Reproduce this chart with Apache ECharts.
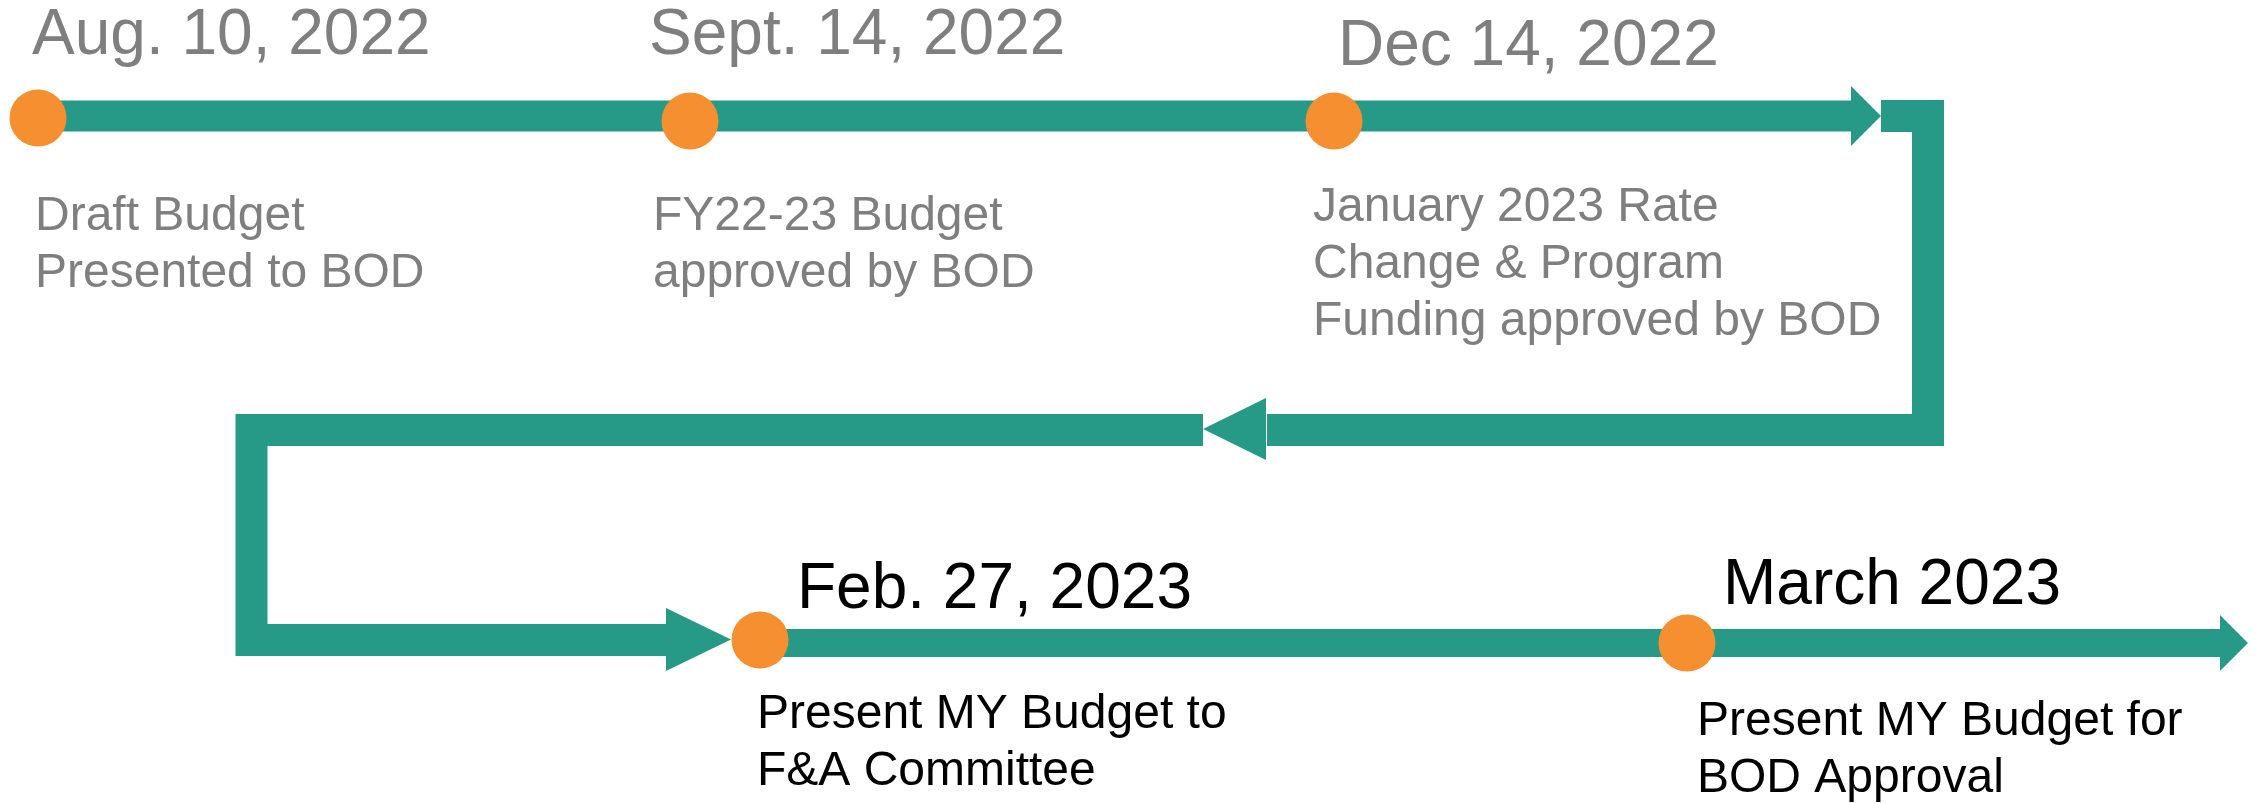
<!DOCTYPE html>
<html>
<head>
<meta charset="utf-8">
<title>Budget timeline</title>
<script src="https://cdn.jsdelivr.net/npm/echarts@6/dist/echarts.min.js"></script>
<style>
  html, body { margin: 0; padding: 0; background: #fff; }
  #budget-timeline { width: 2255px; height: 803px; }
</style>
</head>
<body>
<div id="budget-timeline"></div>
<script>
// milestones
const dates = ['Aug. 10, 2022', 'Sept. 14, 2022', 'Dec 14, 2022', 'Feb. 27, 2023', 'March 2023'];
const notes = [
  'Draft Budget\nPresented to BOD',
  'FY22-23 Budget\napproved by BOD',
  'January 2023 Rate\nChange & Program\nFunding approved by BOD',
  'Present MY Budget to\nF&A Committee',
  'Present MY Budget for\nBOD Approval'
];
const milestoneX = [38, 690, 1334, 760, 1687];
const milestoneY = [118, 121, 121, 640, 643];
const done = [true, true, true, false, false]; // grey = done, black = still to come

// the snake-shaped track
const topTrack = [[37, 116], [1852, 116]];
const rightBend = [[1881, 116], [1928, 116], [1928, 430], [1267, 430]];
const leftBend = [[1203, 430], [251.5, 430], [251.5, 640], [667, 640]];
const bottomTrack = [[760, 643], [2221, 643]];
// arrow heads: centre x, centre y, direction
const arrowHeads = [[1866, 116, 'right'], [1234.5, 429, 'left'], [698.5, 639.5, 'right'], [2234, 643, 'right']];

// where the texts sit (left edge, middle of first line)
const dateAnchorX = [32, 649, 1338, 797, 1723];
const dateAnchorY = [36.5, 36.5, 47, 590, 586.5];
const noteAnchorX = [35, 653, 1313, 757, 1697];
const noteAnchorY = [188, 188, 179.5, 686, 693.5];

const TEAL = '#269a87';
const ORANGE = '#f58f2f';
const GREY = '#7f7f7f';
const FONT = '"Liberation Sans", Arial, sans-serif';

let myChart = echarts.init(document.getElementById('budget-timeline'));

const arrowSize = [[60, 30], [62, 63], [63, 65], [56, 28]];

function track(name, data, width) {
  return {
    name: name,
    type: 'line',
    data: data,
    symbol: 'none',
    silent: true,
    z: 2,
    lineStyle: { color: TEAL, width: width, cap: 'butt', join: 'miter' }
  };
}

let option = {
  animation: false,
  backgroundColor: '#fff',
  grid: { left: 0, right: 0, top: 0, bottom: 0 },
  xAxis: { type: 'value', min: 0, max: 2255, show: false },
  yAxis: { type: 'value', min: 0, max: 803, inverse: true, show: false },
  series: [
    track('top', topTrack, 31),
    track('right bend', rightBend, 32),
    track('left bend', leftBend, 32),
    track('bottom', bottomTrack, 28),
    {
      name: 'arrows',
      type: 'scatter',
      silent: true,
      z: 3,
      symbol: 'triangle',
      itemStyle: { color: TEAL, opacity: 1 },
      data: arrowHeads.map((a, i) => ({
        value: [a[0], a[1]],
        symbolSize: arrowSize[i],
        symbolRotate: a[2] === 'right' ? -90 : 90
      }))
    },
    {
      name: 'milestones',
      type: 'scatter',
      silent: true,
      z: 5,
      symbolSize: 57,
      itemStyle: { color: ORANGE, opacity: 1 },
      data: milestoneX.map((x, i) => [x, milestoneY[i]])
    },
    {
      name: 'dates',
      type: 'scatter',
      silent: true,
      z: 6,
      symbolSize: 0,
      itemStyle: { opacity: 1 },
      data: dates.map((d, i) => ({
        name: d,
        value: [dateAnchorX[i], dateAnchorY[i]],
        label: { color: done[i] ? GREY : '#000' }
      })),
      label: {
        show: true,
        position: [0, 0],
        align: 'left',
        verticalAlign: 'middle',
        fontFamily: FONT,
        fontSize: 64,
        opacity: 1,
        formatter: p => p.name
      }
    },
    {
      name: 'notes',
      type: 'scatter',
      silent: true,
      z: 6,
      symbolSize: 0,
      itemStyle: { opacity: 1 },
      data: notes.map((n, i) => ({
        name: n,
        value: [noteAnchorX[i], noteAnchorY[i]],
        label: { color: done[i] ? GREY : '#000' }
      })),
      label: {
        show: true,
        position: [0, 0],
        align: 'left',
        verticalAlign: 'top',
        fontFamily: FONT,
        fontSize: 48,
        lineHeight: 57,
        opacity: 1,
        formatter: p => p.name
      }
    }
  ]
};
myChart.setOption(option);

window.addEventListener('resize', function () {
  myChart.resize();
});
</script>
</body>
</html>
